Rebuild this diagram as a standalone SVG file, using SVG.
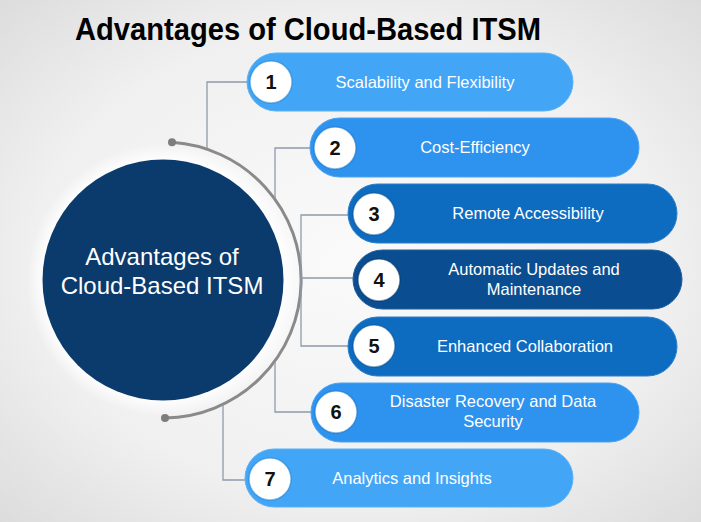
<svg xmlns="http://www.w3.org/2000/svg" width="701" height="522" viewBox="0 0 701 522">
  <defs>
    <radialGradient id="bg" cx="0.5" cy="0.5" r="0.75">
      <stop offset="0" stop-color="#fafafa"/>
      <stop offset="0.6" stop-color="#f0f0f0"/>
      <stop offset="1" stop-color="#d9d9d9"/>
    </radialGradient>
    <radialGradient id="halo" cx="0.5" cy="0.5" r="0.5">
      <stop offset="0.88" stop-color="#ffffff" stop-opacity="0.9"/>
      <stop offset="1" stop-color="#ffffff" stop-opacity="0"/>
    </radialGradient>
    <style>
      .title { font-family: "Liberation Sans", Arial, sans-serif; font-weight: bold; font-size: 31px; fill: #000; }
      .hub { font-family: "Liberation Sans", Arial, sans-serif; font-size: 24px; fill: #fff; text-anchor: middle; }
      .label { font-family: "Liberation Sans", Arial, sans-serif; font-size: 16.5px; fill: #fff; text-anchor: middle; }
      .num { font-family: "Liberation Sans", Arial, sans-serif; font-weight: bold; font-size: 20px; fill: #111; text-anchor: middle; }
      .badge { fill: #fff; stroke-width: 1.5; stroke-opacity: 0.5; }
      .wire { fill: none; stroke: #8d9aab; stroke-width: 1.3; }
      .light { fill: #42a5f5; stroke: #5ab2f7; }
      .mid { fill: #2e93ef; stroke: #4aa3f3; }
      .deep { fill: #0d6cc0; stroke: #2a7fca; }
      .dark { fill: #0a4e91; stroke: #1d5e9c; }
    </style>
  </defs>

  <!-- backdrop -->
  <rect width="701" height="522" fill="url(#bg)"/>

  <text class="title" x="75" y="40" textLength="466" lengthAdjust="spacingAndGlyphs">Advantages of Cloud-Based ITSM</text>

  <!-- central hub -->
  <g id="hub">
    <circle cx="163" cy="280" r="136" fill="url(#halo)"/>
    <path d="M172,142.3 A138,138 0 0 1 165,418" fill="none" stroke="#8a8a8a" stroke-width="3"/>
    <circle cx="172" cy="142.3" r="4" fill="#7d7d7d"/>
    <circle cx="165" cy="418" r="4" fill="#7d7d7d"/>
    <circle cx="163" cy="280" r="120.5" fill="#0b3a6c"/>
    <text class="hub" x="162" y="265">Advantages of</text>
    <text class="hub" x="162" y="294">Cloud-Based ITSM</text>
  </g>

  <!-- connectors -->
  <g id="connectors">
    <path class="wire" d="M247,82 H207 V148"/>
    <path class="wire" d="M310,148 H275 V198"/>
    <path class="wire" d="M348,215 H301 V346 H348"/>
    <path class="wire" d="M301,278 H353"/>
    <path class="wire" d="M275,362 V412 H311"/>
    <path class="wire" d="M223,405 V480 H245"/>
  </g>

  <g id="item1">
    <rect class="light" x="247" y="53" width="326" height="58" rx="29"/>
    <circle class="badge" cx="271" cy="82" r="21" stroke="#1b7fd0"/>
    <text class="num" x="271" y="89">1</text>
    <text class="label" x="425" y="88">Scalability and Flexibility</text>
  </g>

  <g id="item2">
    <rect class="mid" x="310" y="118" width="329" height="59" rx="29.5"/>
    <circle class="badge" cx="335" cy="148" r="21" stroke="#1470c2"/>
    <text class="num" x="335" y="155">2</text>
    <text class="label" x="475" y="153">Cost-Efficiency</text>
  </g>

  <g id="item3">
    <rect class="deep" x="348" y="184" width="329" height="59" rx="29.5"/>
    <circle class="badge" cx="374" cy="214" r="21" stroke="#0a4f91"/>
    <text class="num" x="374" y="221">3</text>
    <text class="label" x="528" y="219">Remote Accessibility</text>
  </g>

  <g id="item4">
    <rect class="dark" x="353" y="250" width="329" height="59" rx="29.5"/>
    <circle class="badge" cx="379" cy="280" r="21" stroke="#06335f"/>
    <text class="num" x="379" y="287">4</text>
    <text class="label" x="534" y="275">Automatic Updates and</text>
    <text class="label" x="534" y="295">Maintenance</text>
  </g>

  <g id="item5">
    <rect class="deep" x="348" y="317" width="329" height="59" rx="29.5"/>
    <circle class="badge" cx="374" cy="346" r="21" stroke="#0a4f91"/>
    <text class="num" x="374" y="353">5</text>
    <text class="label" x="525" y="352">Enhanced Collaboration</text>
  </g>

  <g id="item6">
    <rect class="mid" x="311" y="383" width="328" height="59" rx="29.5"/>
    <circle class="badge" cx="336" cy="412" r="21" stroke="#1470c2"/>
    <text class="num" x="336" y="419">6</text>
    <text class="label" x="493" y="407">Disaster Recovery and Data</text>
    <text class="label" x="493" y="427">Security</text>
  </g>

  <g id="item7">
    <rect class="light" x="245" y="449" width="328" height="58" rx="29"/>
    <circle class="badge" cx="270" cy="479" r="21" stroke="#1b7fd0"/>
    <text class="num" x="270" y="486">7</text>
    <text class="label" x="412" y="484">Analytics and Insights</text>
  </g>
</svg>
